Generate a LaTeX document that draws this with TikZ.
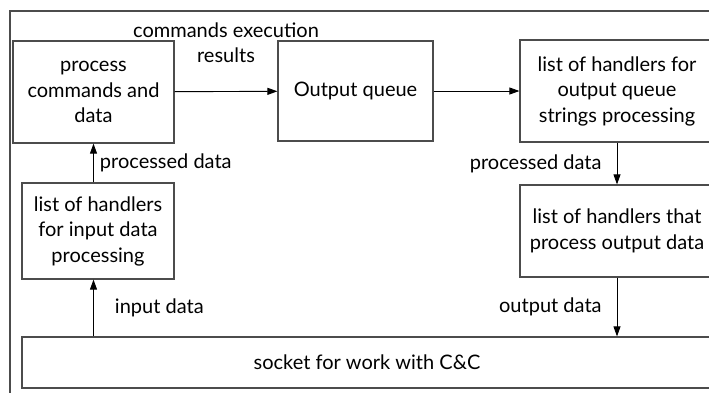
\documentclass[tikz,border=0pt]{standalone}
\usepackage{fontspec}
\setmainfont{Lato}
\usetikzlibrary{arrows.meta}

\begin{document}
\begin{tikzpicture}[
    x=1pt, y=-1pt,
    box/.style={draw=black!70, line width=1.2pt, align=center, font=\fontsize{20}{25.5}\selectfont, inner sep=0pt},
    arr/.style={-{Triangle[length=10pt,width=7pt]}, line width=0.9pt},
    lbl/.style={font=\fontsize{20}{25.5}\selectfont, align=center, inner sep=0pt}
]
    \useasboundingbox (0,0) rectangle (709,392);
    % outer frame, cut by the page edge
    \draw[black!70, line width=1.2pt] (10,11) rectangle (730,410);

    \node[box, minimum width=161pt, minimum height=102pt] (proc) at (93.5,92) {process\\commands and\\data};
    \node[box, minimum width=155pt, minimum height=100pt] (outq) at (355.5,91) {Output queue};
    \node[box, minimum width=194pt, minimum height=102pt] (outh) at (617,91) {list of handlers for\\output queue\\strings processing};
    \node[box, minimum width=194pt, minimum height=92pt] (outd) at (617,231) {list of handlers that\\process output data};
    \node[box, minimum width=152pt, minimum height=96pt] (inh) at (98,231) {list of handlers\\for input data\\processing};
    \node[box, minimum width=690pt, minimum height=51pt] (sock) at (367,362.5) {socket for work with C\&C};

    \draw[arr] (proc) -- (outq) node[lbl, midway, above=28pt] {commands execution\\results};
    \draw[arr] (outq) -- (outh);
    \draw[arr] (inh.north -| proc.south) -- (proc.south) node[lbl, midway, right=6pt] {processed data};
    \draw[arr] (sock.north -| proc.south) -- (inh.south -| proc.south) node[lbl, midway, right=21pt] {input data};
    \draw[arr] (outh) -- (outd) node[lbl, midway, left=15pt] {processed data};
    \draw[arr] (outd) -- (outd |- sock.north) node[lbl, midway, left=15pt] {output data};
\end{tikzpicture}
\end{document}
